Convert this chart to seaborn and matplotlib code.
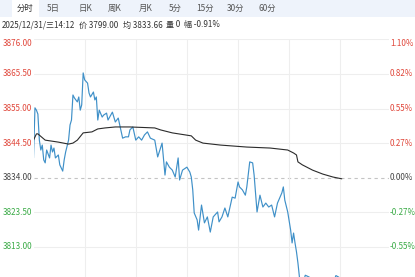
import matplotlib
matplotlib.use('Agg')
import matplotlib.pyplot as plt
import seaborn as sns
import pandas as pd
from matplotlib.patches import Rectangle
from matplotlib.transforms import blended_transform_factory

# ---------------- data ----------------
prev_close = 3834.00

price_time = [0, 1, 2, 3, 4, 5, 6, 7, 8, 9,
              11, 12, 13, 14, 15, 17, 18, 20, 21, 22,
              24, 25, 26, 27, 28, 30, 31, 32, 33, 34,
              35, 37, 38, 39, 41, 42, 43, 44, 45, 47,
              48, 50, 51, 54, 56, 58, 61, 63, 65, 66,
              68, 70, 72, 74, 76, 78, 80, 83, 85, 88,
              90, 91, 93, 95, 97, 99, 100, 102, 105, 107,
              108, 109, 110, 112, 113, 115, 117, 119, 121, 123,
              126, 127, 129, 131, 133, 136, 138, 140, 141, 143,
              145, 146, 148, 150, 151, 153, 155, 157, 159, 161,
              163, 165, 167, 170, 171, 172, 174, 176, 177, 178,
              179, 180, 181, 182, 184, 186, 188, 190, 194, 200,
              205, 207, 209, 211]
price_vals = [3840.0, 3855.2, 3854.5, 3853.3, 3845.4, 3842.4, 3843.9, 3839.4, 3838.5, 3842.4,
              3840.0, 3843.9, 3841.8, 3843.0, 3840.0, 3840.9, 3837.9, 3836.0, 3839.4, 3841.8,
              3845.4, 3850.0, 3851.5, 3859.1, 3858.2, 3857.0, 3858.5, 3854.5, 3856.1, 3865.8,
              3863.7, 3862.7, 3859.7, 3858.5, 3860.0, 3857.6, 3858.5, 3851.5, 3854.5, 3852.4,
              3853.0, 3853.6, 3851.5, 3853.9, 3850.9, 3852.1, 3846.0, 3846.4, 3846.4, 3848.5,
              3849.4, 3845.4, 3846.4, 3845.4, 3847.0, 3847.9, 3846.0, 3845.4, 3840.3, 3844.5,
              3834.8, 3838.8, 3837.2, 3836.3, 3834.2, 3840.0, 3833.3, 3836.3, 3837.2, 3835.7,
              3834.2, 3830.3, 3823.3, 3821.2, 3818.1, 3825.7, 3820.3, 3822.1, 3817.5, 3822.1,
              3823.6, 3820.6, 3822.1, 3824.8, 3822.1, 3828.1, 3827.8, 3832.7, 3831.2, 3830.3,
              3828.7, 3831.2, 3838.8, 3838.5, 3834.8, 3823.6, 3828.7, 3825.1, 3826.3, 3825.1,
              3825.7, 3822.1, 3826.3, 3829.4, 3831.2, 3827.2, 3823.6, 3818.1, 3814.2, 3817.2,
              3814.2, 3811.5, 3808.1, 3803.9, 3801.0, 3804.4, 3804.0, 3803.5, 3800.5, 3801.0,
              3802.0, 3804.3, 3803.8, 3799.0]

mean_time = [0, 2, 3, 8, 17, 24, 27, 30, 34, 40,
             44, 49, 56, 66, 83, 87, 95, 108, 111, 116,
             128, 146, 162, 174, 178, 180, 181, 184, 191, 198,
             205, 211]
mean_vals = [3845.4, 3847.3, 3847.3, 3845.4, 3844.8, 3844.2, 3844.5, 3845.4, 3847.6, 3847.9,
             3848.8, 3849.1, 3849.4, 3849.4, 3849.1, 3848.5, 3847.6, 3846.7, 3845.4, 3844.5,
             3843.9, 3843.3, 3843.0, 3842.4, 3841.5, 3840.9, 3838.8, 3837.9, 3836.3, 3835.1,
             3834.2, 3833.66]

y_ticks = [3876.00, 3865.50, 3855.00, 3844.50, 3834.00, 3823.50, 3813.00, 3802.50, 3792.00]
y_labels = ['3876.00', '3865.50', '3855.00', '3844.50', '3834.00', '3823.50', '3813.00', '3802.50', '3792.00']
pct_labels = ['1.10%', '0.82%', '0.55%', '0.27%', '0.00%', '-0.27%', '-0.55%', '-0.82%', '-1.10%']
x_grid = [35, 70, 105, 140, 175, 210]

tabs = ['分时', '5日', '日K', '周K', '月K', '5分', '15分', '30分', '60分']
info_items = ['2025/12/31/三14:12', '价 3799.00', '均 3833.66', '量 0', '幅 -0.91%']

# ---------------- style ----------------
sns.set_theme(style='white')
plt.rcParams['font.family'] = ['Noto Sans CJK SC', 'DejaVu Sans']

W, H = 415, 277
fig = plt.figure(figsize=(W / 100, H / 100), dpi=100)
fig.patch.set_facecolor('white')


def fx(px):
    return px / W


def fy(py):
    return 1 - py / H


# tab bar
fig.patches.append(Rectangle((0, fy(17)), 1, 17 / H, transform=fig.transFigure,
                             facecolor='#eef3fb', edgecolor='none', zorder=0))
fig.patches.append(Rectangle((fx(12), fy(17)), fx(27), 17 / H, transform=fig.transFigure,
                             facecolor='#ffffff', edgecolor='none', zorder=0))
tab_x = [25, 53, 85, 115, 146, 175, 205, 236, 267]
for t, xx in zip(tabs, tab_x):
    fig.text(fx(xx), fy(8.5), t, ha='center', va='center', fontsize=6.0,
             color='#333333' if t == '分时' else '#555555')

info_x = [2, 79, 123, 166, 184]
for t, xx in zip(info_items, info_x):
    fig.text(fx(xx), fy(25), t, ha='left', va='center', fontsize=5.8, color='#333333')

# main axes
top_px, bot_px, left_px, right_px = 39.3, 316.1, 33.5, 389
ax = fig.add_axes([fx(left_px), fy(bot_px), fx(right_px - left_px), (bot_px - top_px) / H])
ax.set_facecolor('none')
ax.set_xlim(0, (right_px - left_px) / 1.461)
ax.set_ylim(y_ticks[-1], y_ticks[0])
for s in ax.spines.values():
    s.set_visible(False)
ax.set_xticks([])
ax.set_yticks([])

for v in y_ticks:
    if v == prev_close:
        ax.axhline(v, color='#c4c4c4', lw=0.8, ls=(0, (3, 3)), zorder=1)
    else:
        ax.axhline(v, color='#eeeeee', lw=0.8, zorder=1)
for xv in x_grid:
    ax.axvline(xv, color='#eeeeee', lw=0.8, zorder=1)

price_df = pd.DataFrame({'t': price_time, 'p': price_vals})
mean_df = pd.DataFrame({'t': mean_time, 'p': mean_vals})
sns.lineplot(data=price_df, x='t', y='p', ax=ax, color='#3f90c8', linewidth=0.85,
             estimator=None, sort=False, zorder=3)
sns.lineplot(data=mean_df, x='t', y='p', ax=ax, color='#2b2b2b', linewidth=0.8,
             estimator=None, sort=False, zorder=4)
ax.set_xlabel('')
ax.set_ylabel('')

# labels only for the rows that fall inside the visible picture
tr = blended_transform_factory(fig.transFigure, ax.transData)
red, green, neutral = '#e0463a', '#39aa45', '#444444'
for i, (v, lab, pl) in enumerate(zip(y_ticks[:7], y_labels[:7], pct_labels[:7])):
    c = red if v > prev_close else (green if v < prev_close else neutral)
    va = 'top' if i == 0 else 'center'
    ax.text(fx(32), v, lab, transform=tr, ha='right', va=va, fontsize=5.8, color=c)
    ax.text(fx(390), v, pl, transform=tr, ha='left', va=va, fontsize=5.8, color=c)

fig.savefig('out.png', dpi=100)
